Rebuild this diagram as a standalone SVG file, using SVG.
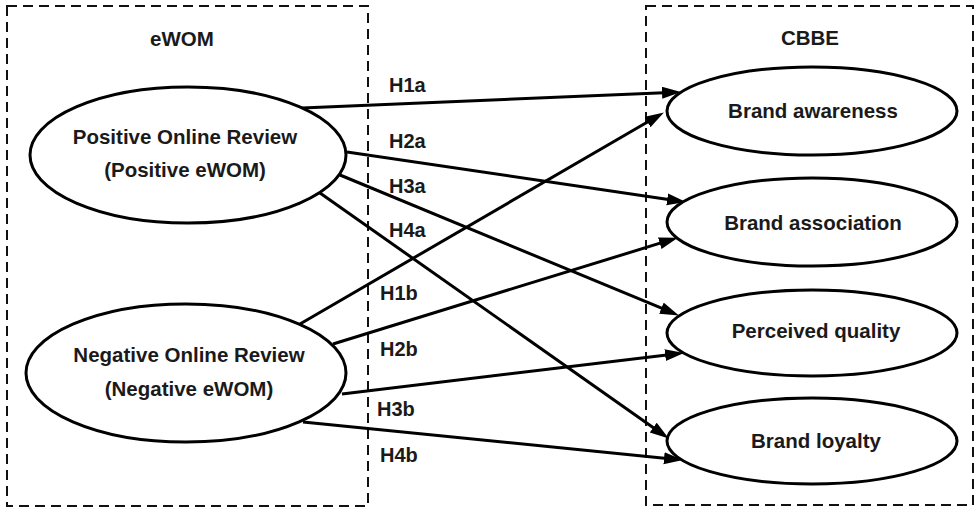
<svg xmlns="http://www.w3.org/2000/svg" width="976" height="509" viewBox="0 0 976 509">
<style>
text{font-family:"Liberation Sans",Arial,sans-serif;font-weight:bold;font-size:20.5px;fill:#1a1a1a}
.box{fill:none;stroke:#111;stroke-width:2;stroke-dasharray:10 6}
.node{fill:#fff;stroke:#000;stroke-width:3}
.c{text-anchor:middle}
.lbl{font-size:20px}
.edge{fill:none;stroke:#000;stroke-width:3;marker-end:url(#arr)}
</style>
<defs>
<marker id="arr" markerUnits="userSpaceOnUse" markerWidth="20" markerHeight="14" refX="8" refY="6" orient="auto">
<path d="M0,0 L19,6 L0,12 z" fill="#000"/>
</marker>
</defs>
<rect class="box" x="7" y="6" width="361" height="500"/>
<rect class="box" x="646" y="6" width="327" height="499"/>
<text class="c" x="182" y="46">eWOM</text>
<text class="c" x="810" y="45">CBBE</text>
<g id="connectors">
<path class="edge" d="M302,108 L670,92.4"/>
<path class="edge" d="M347,152 L675.1,200.5"/>
<path class="edge" d="M340,175 L668.8,311.2"/>
<path class="edge" d="M320,193 L659.8,432.2"/>
<path class="edge" d="M300,324 L654.4,118"/>
<path class="edge" d="M333,344 L667.4,240.9"/>
<path class="edge" d="M342,394 L673.1,354.2"/>
<path class="edge" d="M303,422 L672,459"/>
<text class="lbl" x="389" y="92">H1a</text>
<text class="lbl" x="389" y="148">H2a</text>
<text class="lbl" x="389" y="193">H3a</text>
<text class="lbl" x="389" y="237">H4a</text>
<text class="lbl" x="380" y="300">H1b</text>
<text class="lbl" x="380" y="356">H2b</text>
<text class="lbl" x="377" y="416">H3b</text>
<text class="lbl" x="380" y="462">H4b</text>
</g>
<g id="pos">
<ellipse class="node" cx="188" cy="155" rx="158" ry="68"/>
<text class="c" x="185" y="144">Positive Online Review</text>
<text class="c" x="185" y="177">(Positive eWOM)</text>
</g>
<g id="neg">
<ellipse class="node" cx="186" cy="373" rx="160" ry="69"/>
<text class="c" x="189" y="362">Negative Online Review</text>
<text class="c" x="189" y="396">(Negative eWOM)</text>
</g>
<g id="awareness">
<ellipse class="node" cx="812" cy="111" rx="145" ry="44"/>
<text class="c" x="813" y="118">Brand awareness</text>
</g>
<g id="association">
<ellipse class="node" cx="812" cy="222" rx="145" ry="44"/>
<text class="c" x="813" y="230">Brand association</text>
</g>
<g id="quality">
<ellipse class="node" cx="812" cy="333" rx="145" ry="43"/>
<text class="c" x="816" y="338">Perceived quality</text>
</g>
<g id="loyalty">
<ellipse class="node" cx="812" cy="441" rx="145" ry="43"/>
<text class="c" x="816" y="448">Brand loyalty</text>
</g>
</svg>
